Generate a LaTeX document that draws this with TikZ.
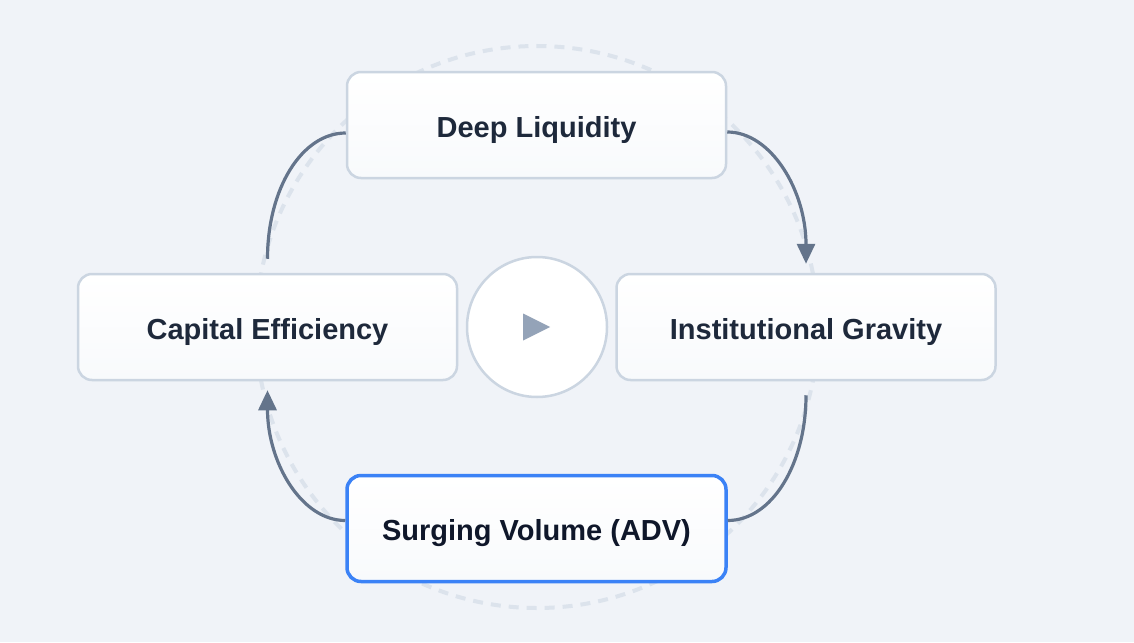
\documentclass[tikz,border=0pt]{standalone}
\usepackage{fontspec}
\setmainfont{Liberation Sans}
\usetikzlibrary{arrows.meta}
\definecolor{bgc}{HTML}{F0F3F8}
\definecolor{boxline}{HTML}{CBD5E1}
\definecolor{boxbot}{HTML}{F8FAFC}
\definecolor{flowc}{HTML}{64748B}
\definecolor{ringc}{HTML}{DCE3EC}
\definecolor{bluec}{HTML}{3B82F6}
\definecolor{txtc}{HTML}{1E293B}
\definecolor{txtd}{HTML}{0F172A}
\definecolor{playc}{HTML}{94A3B8}
\tikzset{
  stagebox/.style={rectangle, rounded corners=14pt, draw=boxline, line width=2.5pt,
    top color=white, bottom color=boxbot, minimum width=379pt, minimum height=106pt,
    text height=24pt, text depth=0pt,
    text=txtc, font=\bfseries\fontsize{29}{34}\selectfont},
  activebox/.style={stagebox, draw=bluec, line width=3.5pt, text=txtd},
  flow/.style={draw=flowc, line width=3.2pt},
  flowtip/.style={flow, -{Triangle[length=20pt,width=18pt]}},
  dashring/.style={draw=ringc, line width=4pt, dash pattern=on 10pt off 8pt},
  hub/.style={circle, draw=boxline, line width=2.5pt, fill=white, minimum size=140pt}
}
\begin{document}
\begin{tikzpicture}[x=1pt,y=-1pt]
\fill[bgc] (0,0) rectangle (1134,642);
\useasboundingbox (0,0) rectangle (1134,642);
\coordinate (ctr) at (537,327);
\draw[dashring] (ctr) circle[radius=281pt];
\node[stagebox] (deep) at (536.5,125) {Deep Liquidity};
\node[stagebox] (cap) at (267.5,327) {Capital Efficiency};
\node[stagebox] (inst) at (806,327) {Institutional Gravity};
\node[activebox] (surge) at (536.5,528.5) {Surging Volume (ADV)};
\node[hub] (play) at (ctr) {};
\fill[playc] ([shift={(-14pt,13.5pt)}]play.center) -- ([shift={(13pt,0pt)}]play.center) -- ([shift={(-14pt,-13.5pt)}]play.center) -- cycle;
\draw[flow] ([yshift=14pt]cap.north) .. controls +(0,-70) and +(-44,0) .. ([yshift=-8pt]deep.west);
\draw[flowtip] ([yshift=-7pt]deep.east) .. controls +(44,0) and +(0,-73) .. ([yshift=9pt]inst.north);
\draw[flow] ([yshift=-14pt]inst.south) .. controls +(0,69) and +(44,0) .. ([yshift=8pt]surge.east);
\draw[flowtip] ([yshift=8pt]surge.west) .. controls +(-44,0) and +(0,72) .. ([yshift=-9pt]cap.south);
\end{tikzpicture}
\end{document}
